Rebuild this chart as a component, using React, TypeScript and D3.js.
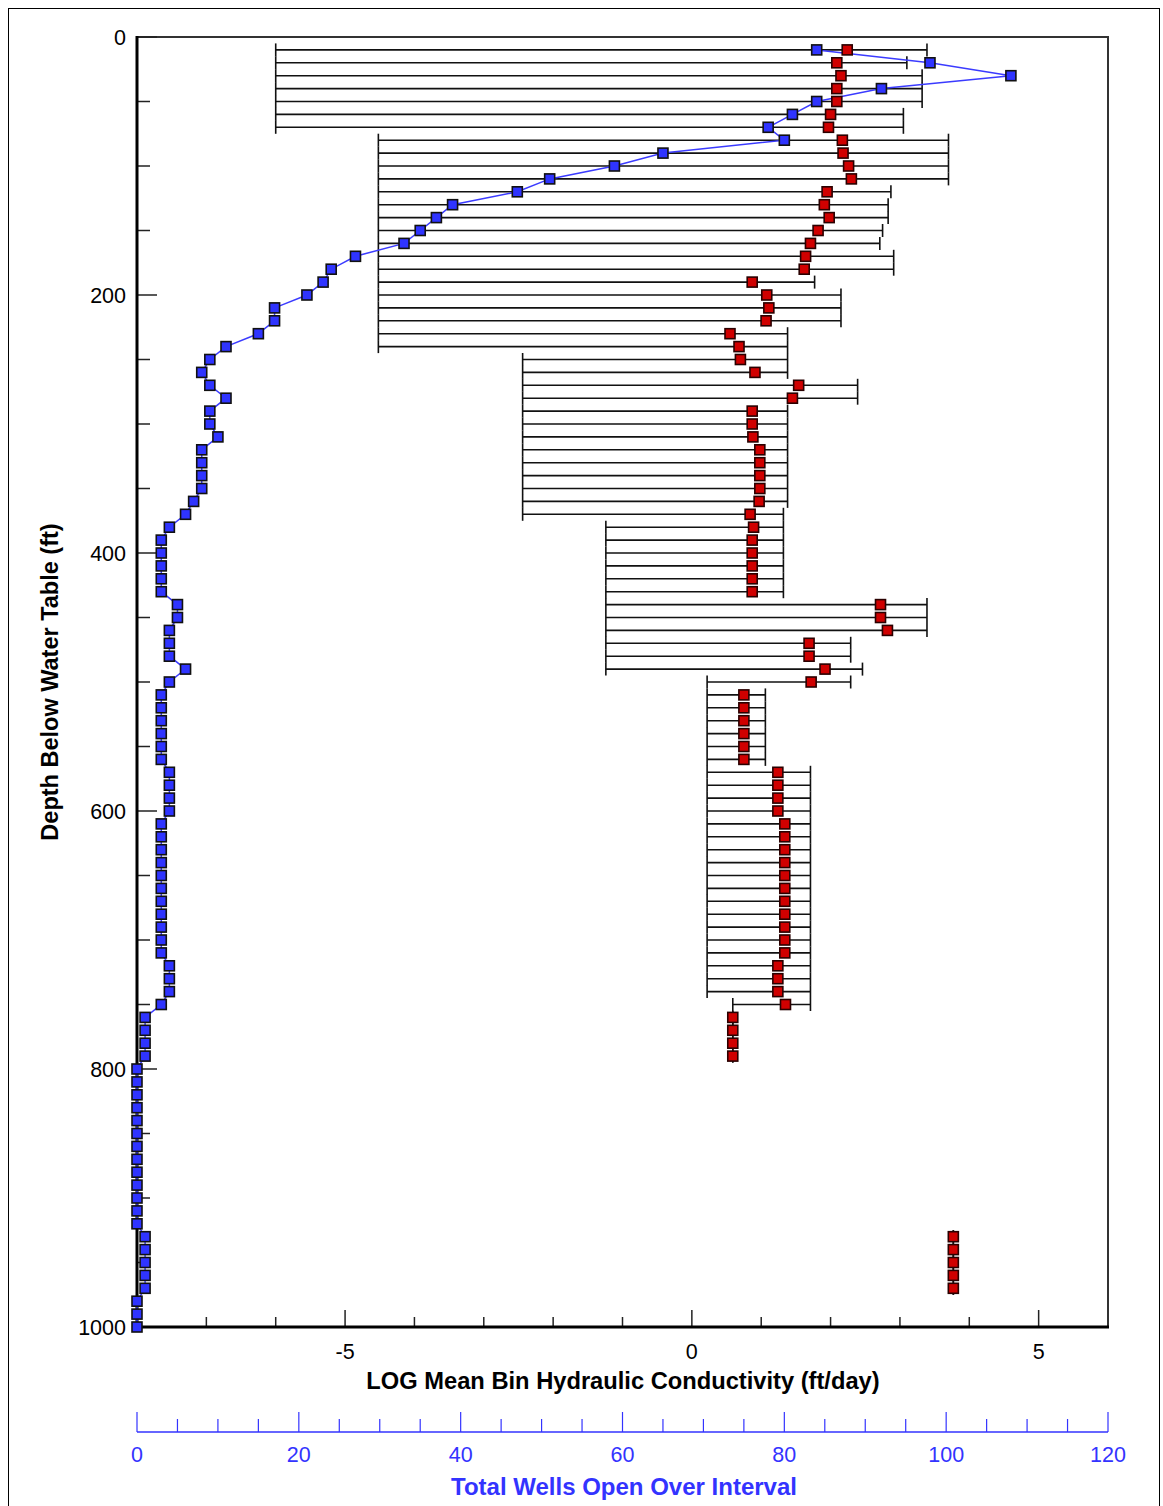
import React, { useEffect, useRef } from "react";
import * as d3 from "d3";

// depth bins (ft below water table)
const depthBins = [
  10, 20, 30, 40, 50, 60, 70, 80, 90, 100,
  110, 120, 130, 140, 150, 160, 170, 180, 190, 200,
  210, 220, 230, 240, 250, 260, 270, 280, 290, 300,
  310, 320, 330, 340, 350, 360, 370, 380, 390, 400,
  410, 420, 430, 440, 450, 460, 470, 480, 490, 500,
  510, 520, 530, 540, 550, 560, 570, 580, 590, 600,
  610, 620, 630, 640, 650, 660, 670, 680, 690, 700,
  710, 720, 730, 740, 750, 760, 770, 780, 790, 800,
  810, 820, 830, 840, 850, 860, 870, 880, 890, 900,
  910, 920, 930, 940, 950, 960, 970, 980, 990, 1000,
];

// total wells open over each bin
const wellCounts = [
  84, 98, 108, 92, 84, 81, 78, 80, 65, 59,
  51, 47, 39, 37, 35, 33, 27, 24, 23, 21,
  17, 17, 15, 11, 9, 8, 9, 11, 9, 9,
  10, 8, 8, 8, 8, 7, 6, 4, 3, 3,
  3, 3, 3, 5, 5, 4, 4, 4, 6, 4,
  3, 3, 3, 3, 3, 3, 4, 4, 4, 4,
  3, 3, 3, 3, 3, 3, 3, 3, 3, 3,
  3, 4, 4, 4, 3, 1, 1, 1, 1, 0,
  0, 0, 0, 0, 0, 0, 0, 0, 0, 0,
  0, 0, 1, 1, 1, 1, 1, 0, 0, 0,
];

// log mean K per bin
const logMean = [
  2.24, 2.09, 2.15, 2.09, 2.09, 2.0, 1.97, 2.17, 2.18, 2.26,
  2.3, 1.95, 1.91, 1.98, 1.82, 1.71, 1.64, 1.62, 0.87, 1.08,
  1.11, 1.07, 0.55, 0.68, 0.7, 0.91, 1.54, 1.45, 0.87, 0.87,
  0.88, 0.98, 0.98, 0.98, 0.98, 0.97, 0.84, 0.89, 0.87, 0.87,
  0.87, 0.87, 0.87, 2.72, 2.72, 2.82, 1.69, 1.69, 1.92, 1.72,
  0.75, 0.75, 0.75, 0.75, 0.75, 0.75, 1.24, 1.24, 1.24, 1.24,
  1.34, 1.34, 1.34, 1.34, 1.34, 1.34, 1.34, 1.34, 1.34, 1.34,
  1.34, 1.24, 1.24, 1.24, 1.35, 0.59, 0.59, 0.59, 0.59, null,
  null, null, null, null, null, null, null, null, null, null,
  null, null, 3.77, 3.77, 3.77, 3.77, 3.77, null, null, null,
];

// min / max log K per bin
const logLow = [
  -6, -6, -6, -6, -6, -6, -6, -4.52, -4.52, -4.52,
  -4.52, -4.52, -4.52, -4.52, -4.52, -4.52, -4.52, -4.52, -4.52, -4.52,
  -4.52, -4.52, -4.52, -4.52, -2.44, -2.44, -2.44, -2.44, -2.44, -2.44,
  -2.44, -2.44, -2.44, -2.44, -2.44, -2.44, -2.44, -1.24, -1.24, -1.24,
  -1.24, -1.24, -1.24, -1.24, -1.24, -1.24, -1.24, -1.24, -1.24, 0.22,
  0.22, 0.22, 0.22, 0.22, 0.22, 0.22, 0.22, 0.22, 0.22, 0.22,
  0.22, 0.22, 0.22, 0.22, 0.22, 0.22, 0.22, 0.22, 0.22, 0.22,
  0.22, 0.22, 0.22, 0.22, 0.59, 0.59, 0.59, 0.59, 0.59, null,
  null, null, null, null, null, null, null, null, null, null,
  null, null, 3.77, 3.77, 3.77, 3.77, 3.77, null, null, null,
];

const logHigh = [
  3.39, 3.1, 3.32, 3.32, 3.32, 3.05, 3.05, 3.7, 3.7, 3.7,
  3.7, 2.87, 2.83, 2.83, 2.75, 2.71, 2.91, 2.91, 1.77, 2.15,
  2.15, 2.15, 1.38, 1.38, 1.38, 1.38, 2.39, 2.39, 1.38, 1.38,
  1.38, 1.38, 1.38, 1.38, 1.38, 1.38, 1.32, 1.32, 1.32, 1.32,
  1.32, 1.32, 1.32, 3.39, 3.39, 3.39, 2.29, 2.29, 2.46, 2.29,
  1.06, 1.06, 1.06, 1.06, 1.06, 1.06, 1.71, 1.71, 1.71, 1.71,
  1.71, 1.71, 1.71, 1.71, 1.71, 1.71, 1.71, 1.71, 1.71, 1.71,
  1.71, 1.71, 1.71, 1.71, 1.71, 0.59, 0.59, 0.59, 0.59, null,
  null, null, null, null, null, null, null, null, null, null,
  null, null, 3.77, 3.77, 3.77, 3.77, 3.77, null, null, null,
];

const depthTickLabels = [0, 200, 400, 600, 800, 1000];
const logTickLabels = [-5, 0, 5];
const wellTickLabels = [0, 20, 40, 60, 80, 100, 120];

const FONT = "'Liberation Sans', Arial, Helvetica, sans-serif";
const BLUE = "#3333ff";

const App = () => {
  const ref = useRef(null);

  useEffect(() => {
    d3.select(ref.current).selectAll("*").remove();
    const svg = d3.select(ref.current);

    const left = 137, right = 1108, top = 37, bottom = 1327;
    const wellAxisY = 1432;

    const y = d3.scaleLinear().domain([0, 1000]).range([top, bottom]);
    const x = d3.scaleLinear().domain([-8, 6]).range([left, right]);
    const w = d3.scaleLinear().domain([0, 120]).range([left, right]);

    // outer frame
    svg
      .append("rect")
      .attr("x", 8.5)
      .attr("y", 8.5)
      .attr("width", 1151)
      .attr("height", 1520)
      .attr("fill", "none")
      .attr("stroke", "#000")
      .attr("stroke-width", 1);

    const rows = depthBins.map((d, i) => ({
      depth: d,
      wells: wellCounts[i],
      mean: logMean[i],
      lo: logLow[i],
      hi: logHigh[i],
    }));
    const kRows = rows.filter((r) => r.mean !== null);

    // error bars
    const bars = svg.append("g").attr("stroke", "#111").attr("stroke-width", 1.6);
    kRows.forEach((r) => {
      const yy = y(r.depth);
      bars.append("line").attr("x1", x(r.lo)).attr("x2", x(r.hi)).attr("y1", yy).attr("y2", yy);
      [r.lo, r.hi].forEach((v) => {
        bars
          .append("line")
          .attr("x1", x(v))
          .attr("x2", x(v))
          .attr("y1", yy - 6.5)
          .attr("y2", yy + 6.5);
      });
    });

    // frame top/right
    svg
      .append("path")
      .attr("d", `M${left},${top}H${right}V${bottom}`)
      .attr("fill", "none")
      .attr("stroke", "#333")
      .attr("stroke-width", 2);

    // depth axis (left)
    const yAxis = svg.append("g");
    d3.range(0, 1001, 50).forEach((d) => {
      const major = d % 200 === 0;
      yAxis
        .append("line")
        .attr("x1", left)
        .attr("x2", left + (major ? 20 : 13))
        .attr("y1", y(d))
        .attr("y2", y(d))
        .attr("stroke", "#222")
        .attr("stroke-width", 1.5);
    });
    depthTickLabels.forEach((d) => {
      yAxis
        .append("text")
        .attr("x", 126)
        .attr("y", y(d) + 7.5)
        .attr("text-anchor", "end")
        .attr("font-family", FONT)
        .attr("font-size", 21.5)
        .text(d);
    });

    // LOG axis (bottom)
    const xAxis = svg.append("g");
    d3.range(-7, 6, 1).forEach((v) => {
      const major = v % 5 === 0;
      xAxis
        .append("line")
        .attr("x1", x(v))
        .attr("x2", x(v))
        .attr("y1", bottom)
        .attr("y2", bottom - (major ? 17 : 10))
        .attr("stroke", "#222")
        .attr("stroke-width", 1.5);
    });
    logTickLabels.forEach((v) => {
      xAxis
        .append("text")
        .attr("x", x(v))
        .attr("y", 1359)
        .attr("text-anchor", "middle")
        .attr("font-family", FONT)
        .attr("font-size", 21.5)
        .text(v);
    });
    xAxis
      .append("text")
      .attr("x", 623)
      .attr("y", 1389)
      .attr("text-anchor", "middle")
      .attr("font-family", FONT)
      .attr("font-weight", "bold")
      .attr("font-size", 23.7)
      .text("LOG Mean Bin Hydraulic Conductivity (ft/day)");

    // axis lines
    svg
      .append("line")
      .attr("x1", left)
      .attr("x2", left)
      .attr("y1", top - 1)
      .attr("y2", bottom + 1)
      .attr("stroke", "#000")
      .attr("stroke-width", 3);
    svg
      .append("line")
      .attr("x1", left - 1)
      .attr("x2", right + 1)
      .attr("y1", bottom)
      .attr("y2", bottom)
      .attr("stroke", "#000")
      .attr("stroke-width", 3);

    svg
      .append("text")
      .attr("transform", `translate(58,682) rotate(-90)`)
      .attr("text-anchor", "middle")
      .attr("font-family", FONT)
      .attr("font-weight", "bold")
      .attr("font-size", 23.5)
      .text("Depth Below Water Table (ft)");

    // wells axis
    const wAxis = svg.append("g");
    wAxis
      .append("line")
      .attr("x1", left)
      .attr("x2", right)
      .attr("y1", wellAxisY)
      .attr("y2", wellAxisY)
      .attr("stroke", BLUE)
      .attr("stroke-width", 1.5);
    d3.range(0, 121, 5).forEach((v) => {
      const major = v % 20 === 0;
      wAxis
        .append("line")
        .attr("x1", w(v))
        .attr("x2", w(v))
        .attr("y1", wellAxisY)
        .attr("y2", wellAxisY - (major ? 20 : 13))
        .attr("stroke", BLUE)
        .attr("stroke-width", 1.2);
    });
    wellTickLabels.forEach((v) => {
      wAxis
        .append("text")
        .attr("x", w(v))
        .attr("y", 1462)
        .attr("text-anchor", "middle")
        .attr("font-family", FONT)
        .attr("font-size", 21.5)
        .attr("fill", BLUE)
        .text(v);
    });
    wAxis
      .append("text")
      .attr("x", 624)
      .attr("y", 1495)
      .attr("text-anchor", "middle")
      .attr("font-family", FONT)
      .attr("font-weight", "bold")
      .attr("font-size", 24)
      .attr("fill", BLUE)
      .text("Total Wells Open Over Interval");

    // wells line + markers
    const line = d3
      .line()
      .x((r) => w(r.wells))
      .y((r) => y(r.depth));
    svg
      .append("path")
      .datum(rows)
      .attr("d", line)
      .attr("fill", "none")
      .attr("stroke", "#3b3bff")
      .attr("stroke-width", 1.5);

    const sq = 10;
    svg
      .append("g")
      .selectAll("rect")
      .data(rows)
      .join("rect")
      .attr("x", (r) => w(r.wells) - sq / 2)
      .attr("y", (r) => y(r.depth) - sq / 2)
      .attr("width", sq)
      .attr("height", sq)
      .attr("fill", "#2f34ff")
      .attr("stroke", "#111")
      .attr("stroke-width", 1.6);

    // mean K markers
    svg
      .append("g")
      .selectAll("rect")
      .data(kRows)
      .join("rect")
      .attr("x", (r) => x(r.mean) - sq / 2)
      .attr("y", (r) => y(r.depth) - sq / 2)
      .attr("width", sq)
      .attr("height", sq)
      .attr("fill", "#d00000")
      .attr("stroke", "#2a0000")
      .attr("stroke-width", 1.6);
  }, []);

  return (
    <svg
      ref={ref}
      width={1163}
      height={1506}
      style={{ position: "absolute", left: 0, top: 0, background: "#fff" }}
    />
  );
};

export default App;
